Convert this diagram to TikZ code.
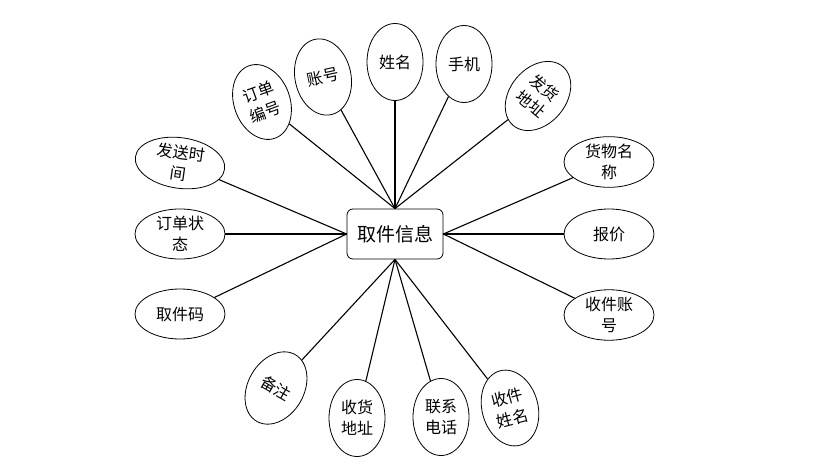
\documentclass[tikz,border=0pt]{standalone}
\usepackage{fontspec}
\setmainfont{Noto Sans CJK SC}
\usetikzlibrary{shapes.geometric, positioning}

\begin{document}
\begin{tikzpicture}[
    x=1pt, y=-1pt, % Pixel-like units, y pointing down
    attr/.style={ellipse, draw, line width=0.8pt, inner sep=0pt,
        align=center, font=\fontsize{16}{21}\selectfont}, % Style for attributes
    tall/.style={attr, minimum width=56pt, minimum height=77pt}, % Upright ellipse
    wide/.style={attr, minimum width=90pt, minimum height=50pt}, % Flat ellipse
    entity/.style={draw, rounded corners=6pt, line width=0.8pt, fill=white,
        minimum width=96pt, minimum height=50pt, font=\fontsize{19}{22}\selectfont}, % Style for the entity
    link/.style={line width=1.1pt} % Style for connectors
]

    % Fix the canvas size
    \useasboundingbox (0,0) rectangle (829,476);

    % Central entity
    \node[entity] (info) at (395,234) {取件信息};

    % Attributes above the entity
    \node[tall, rotate=20] (orderno) at (262,102) {订单\\编号};
    \node[tall, rotate=12] (account) at (323,77) {账号};
    \node[tall] (name) at (395,62) {姓名};
    \node[tall] (phone) at (464,64) {手机};
    \node[tall, rotate=-40] (sendaddr) at (538,96) {发货\\地址};

    % Attributes left of the entity
    \node[wide, rotate=-8] (sendtime) at (180,163) {发送时\\间};
    \node[wide] (status) at (180,234) {订单状\\态};
    \node[wide] (code) at (180,314) {取件码};

    % Attributes right of the entity
    \node[wide] (goods) at (609,162) {货物名\\称};
    \node[wide] (price) at (609,234) {报价};
    \node[wide] (recvacc) at (609,315) {收件账\\号};

    % Attributes below the entity
    \node[tall, rotate=-30] (note) at (276,388) {备注};
    \node[tall] (recvaddr) at (357,418) {收货\\地址};
    \node[tall] (tel) at (441,417) {联系\\电话};
    \node[tall, rotate=15] (recvname) at (510,408) {收件\\姓名};

    % Connectors
    \foreach \a in {orderno, account, name, phone, sendaddr}
        \draw[link] (info.north) -- (\a);
    \foreach \a in {sendtime, status, code}
        \draw[link] (info.west) -- (\a);
    \foreach \a in {goods, price, recvacc}
        \draw[link] (info.east) -- (\a);
    \foreach \a in {note, recvaddr, tel, recvname}
        \draw[link] (info.south) -- (\a);

\end{tikzpicture}
\end{document}
